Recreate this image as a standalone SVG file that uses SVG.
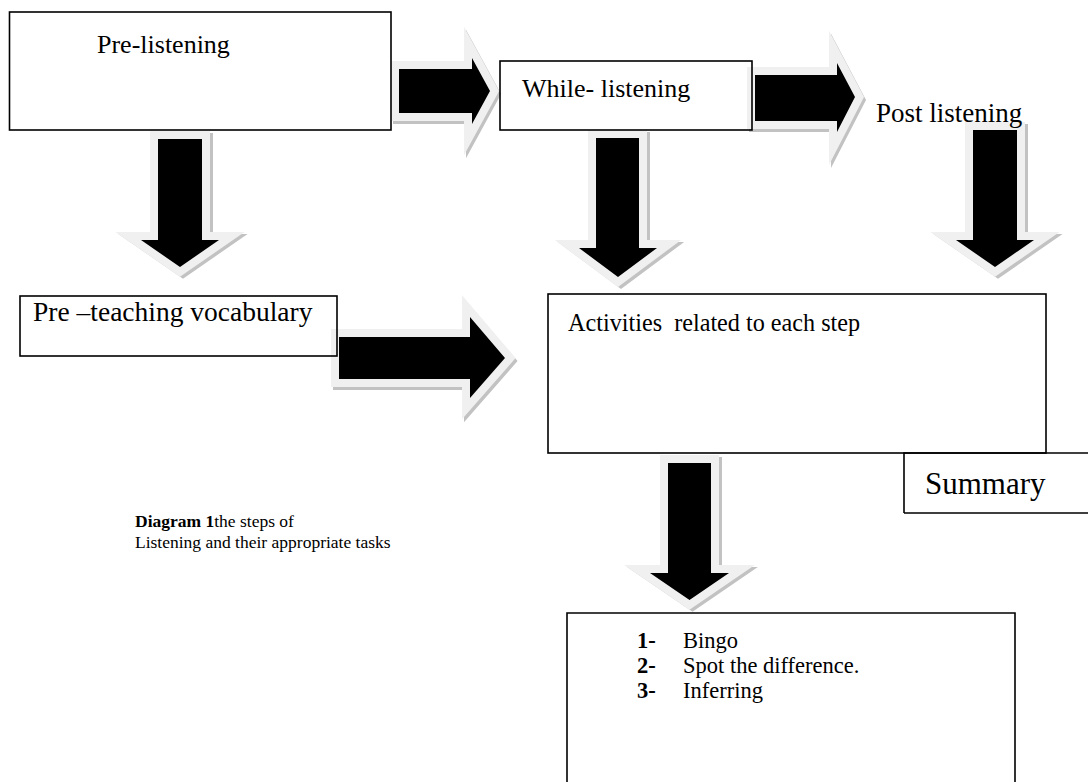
<svg xmlns="http://www.w3.org/2000/svg" width="1088" height="782" viewBox="0 0 1088 782">
<style>
.box{fill:none;stroke:#000;stroke-width:1.6}
.t{font-family:"Liberation Serif","Times New Roman",serif;font-size:26px;fill:#000}
.sh{fill:#c2c2c2;stroke:#c2c2c2;stroke-width:16;stroke-linejoin:miter;stroke-miterlimit:10}
.ol{fill:#f0f0f0;stroke:#f0f0f0;stroke-width:16;stroke-linejoin:miter;stroke-miterlimit:10}
.ar{fill:#000}
.cap{font-size:17.5px}
.li{font-size:22.5px}
</style>
<rect width="1088" height="782" fill="#fff"/>
<g id="connectors">
  <g id="a1">
    <polygon class="sh" transform="translate(2,3)" points="399,69 472,69 472,58 490,91 472,124 472,113 399,113"/>
    <polygon class="ol" points="399,69 472,69 472,58 490,91 472,124 472,113 399,113"/>
    <polygon class="ar" points="399,69 472,69 472,58 490,91 472,124 472,113 399,113"/>
  </g>
  <g id="a2">
    <polygon class="sh" transform="translate(2,3)" points="755,75 837,75 837,63 855,97 837,132 837,121 755,121"/>
    <polygon class="ol" points="755,75 837,75 837,63 855,97 837,132 837,121 755,121"/>
    <polygon class="ar" points="755,75 837,75 837,63 855,97 837,132 837,121 755,121"/>
  </g>
  <g id="a6">
    <polygon class="sh" transform="translate(2,3)" points="339,337 470,337 470,317 505,358 470,398 470,379 339,379"/>
    <polygon class="ol" points="339,337 470,337 470,317 505,358 470,398 470,379 339,379"/>
    <polygon class="ar" points="339,337 470,337 470,317 505,358 470,398 470,379 339,379"/>
  </g>
  <g id="a3">
    <polygon class="sh" transform="translate(3,2)" points="158,139 202,139 202,240 219,240 180,267 141,240 158,240"/>
    <polygon class="ol" points="158,139 202,139 202,240 219,240 180,267 141,240 158,240"/>
    <polygon class="ar" points="158,139 202,139 202,240 219,240 180,267 141,240 158,240"/>
  </g>
  <g id="a4">
    <polygon class="sh" transform="translate(3,2)" points="596,138 639,138 639,248 657,248 618,277 579,248 596,248"/>
    <polygon class="ol" points="596,138 639,138 639,248 657,248 618,277 579,248 596,248"/>
    <polygon class="ar" points="596,138 639,138 639,248 657,248 618,277 579,248 596,248"/>
  </g>
  <g id="a5">
    <polygon class="sh" transform="translate(3,2)" points="973,130 1017,130 1017,240 1034,240 995,267 956,240 973,240"/>
    <polygon class="ol" points="973,130 1017,130 1017,240 1034,240 995,267 956,240 973,240"/>
    <polygon class="ar" points="973,130 1017,130 1017,240 1034,240 995,267 956,240 973,240"/>
  </g>
  <g id="a7">
    <polygon class="sh" transform="translate(3,2)" points="668,463 711,463 711,573 729,573 689.5,600 650,573 668,573"/>
    <polygon class="ol" points="668,463 711,463 711,573 729,573 689.5,600 650,573 668,573"/>
    <polygon class="ar" points="668,463 711,463 711,573 729,573 689.5,600 650,573 668,573"/>
  </g>
</g>
<g id="pre-listening">
  <rect class="box" x="9.5" y="12" width="381.5" height="118"/>
  <text class="t" x="97" y="53">Pre-listening</text>
</g>
<g id="while-listening">
  <rect class="box" x="500" y="61" width="252" height="69"/>
  <text class="t" x="522" y="97">While- listening</text>
</g>
<g id="post-listening">
  <text class="t" x="876" y="122" style="font-size:27px">Post listening</text>
</g>
<g id="pre-teaching">
  <rect class="box" x="20" y="296" width="317" height="60"/>
  <text class="t" x="33" y="321" style="font-size:27.5px">Pre –teaching vocabulary</text>
</g>
<g id="activities">
  <rect class="box" x="548" y="294" width="498" height="159"/>
  <text class="t" x="568" y="331" style="font-size:24.2px" xml:space="preserve">Activities  related to each step</text>
</g>
<g id="summary">
  <path class="box" d="M904,513 V453 H1088 M904,513 H1088"/>
  <text class="t" x="925" y="494" style="font-size:31px">Summary</text>
</g>
<g id="caption">
  <text class="t cap" x="135" y="527"><tspan font-weight="bold">Diagram 1</tspan>the steps of</text>
  <text class="t cap" x="135" y="548">Listening and their appropriate tasks</text>
</g>
<g id="tasks">
  <path class="box" d="M567,782 V613 H1015 V782"/>
  <text class="t li"><tspan x="637" y="648" font-weight="bold">1-</tspan><tspan x="683" y="648">Bingo</tspan></text>
  <text class="t li"><tspan x="637" y="673" font-weight="bold">2-</tspan><tspan x="683" y="673">Spot the difference.</tspan></text>
  <text class="t li"><tspan x="637" y="698" font-weight="bold">3-</tspan><tspan x="683" y="698">Inferring</tspan></text>
</g>
</svg>
